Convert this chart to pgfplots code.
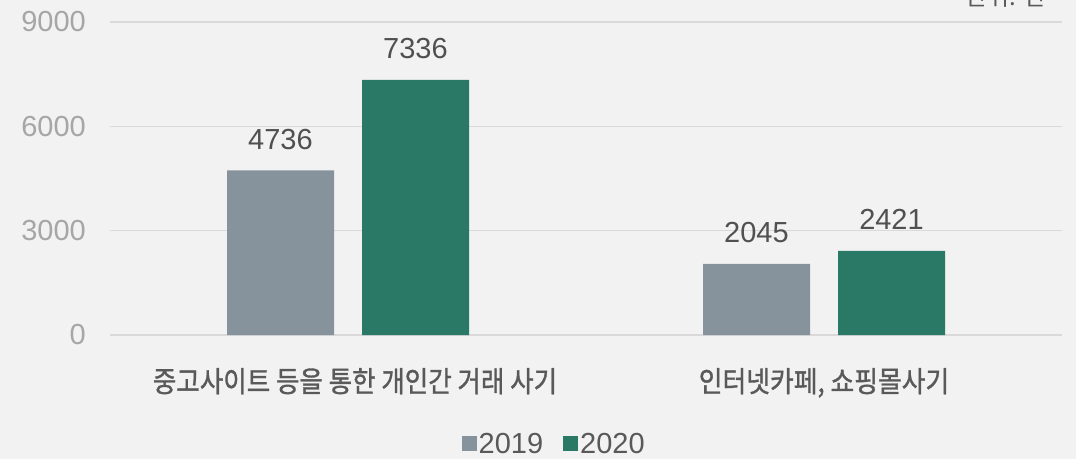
\documentclass[border=0pt]{standalone}
\usepackage{fontspec}
\setmainfont{Liberation Sans}
\newfontfamily\kr{Noto Sans CJK KR}
\newfontfamily\krm{Noto Sans CJK KR}[FakeBold=1.2]
\usepackage{pgfplots}
\pgfplotsset{compat=1.18}
\definecolor{cBg}{HTML}{F2F2F2}
\definecolor{cGrid}{HTML}{D9D9D9}
\definecolor{cTick}{HTML}{A6A6A6}
\definecolor{cTxt}{HTML}{595959}
\definecolor{cVal}{HTML}{505050}
\definecolor{cBarA}{HTML}{87939C}
\definecolor{cBarB}{HTML}{2A7866}

\begin{document}
\begin{tikzpicture}
\useasboundingbox (-110pt,-124pt) rectangle (966pt,335pt);
\fill[cBg] (-110pt,-124pt) rectangle (966pt,335pt);
\begin{scope}
\clip (-110pt,-124pt) rectangle (966pt,335pt);
\begin{axis}[
    scale only axis,
    width=952pt, height=313pt,
    ybar=28pt,
    bar width=107pt,
    xmin=-0.5, xmax=1.5,
    ymin=0, ymax=9000,
    axis line style={draw=none},
    ymajorgrids,
    grid style={draw=cGrid, line width=1.5pt},
    ytick={0,3000,6000,9000},
    xtick={0,1},
    xticklabels={},
    tick style={draw=none},
    /pgf/number format/assume math mode=true,
    /pgf/number format/1000 sep={},
    scaled y ticks=false,
    yticklabel style={font=\fontsize{29}{30}\selectfont, text=cTick, inner sep=0pt, xshift=-24pt},
    nodes near coords,
    every node near coord/.append style={font=\fontsize{29}{30}\selectfont, text=cVal, anchor=base, yshift=21pt},
    legend style={at={(0.366,-0.348)}, anchor=west, draw=none, fill=none,
        font=\fontsize{29}{30}\selectfont, text=cTxt, legend columns=2,
        /tikz/every even column/.append style={column sep=18pt}},
    legend image code/.code={\fill[#1,draw=none] (0pt,-7.5pt) rectangle (15pt,7.5pt);},
]
\addplot[fill=cBarA, draw=none] coordinates {(0,4736) (1,2045)};
\addplot[fill=cBarB, draw=none] coordinates {(0,7336) (1,2421)};
\legend{2019,2020}
\end{axis}
\node[anchor=base, text=cTxt, inner sep=0pt] at (245pt,-57pt)
  {\krm\fontsize{29}{30}\selectfont\scalebox{0.88}[1]{중고사이트 등을 통한 개인간 거래 사기}};
\node[anchor=base, text=cTxt, inner sep=0pt] at (714pt,-57pt)
  {\krm\fontsize{29}{30}\selectfont\scalebox{0.89}[1]{인터넷카페, 쇼핑몰사기}};
\node[anchor=base east, text=cTxt, inner sep=0pt] at (936pt,330pt)
  {\kr\fontsize{24}{26}\selectfont 단위: 건};
\end{scope}
\end{tikzpicture}
\end{document}
